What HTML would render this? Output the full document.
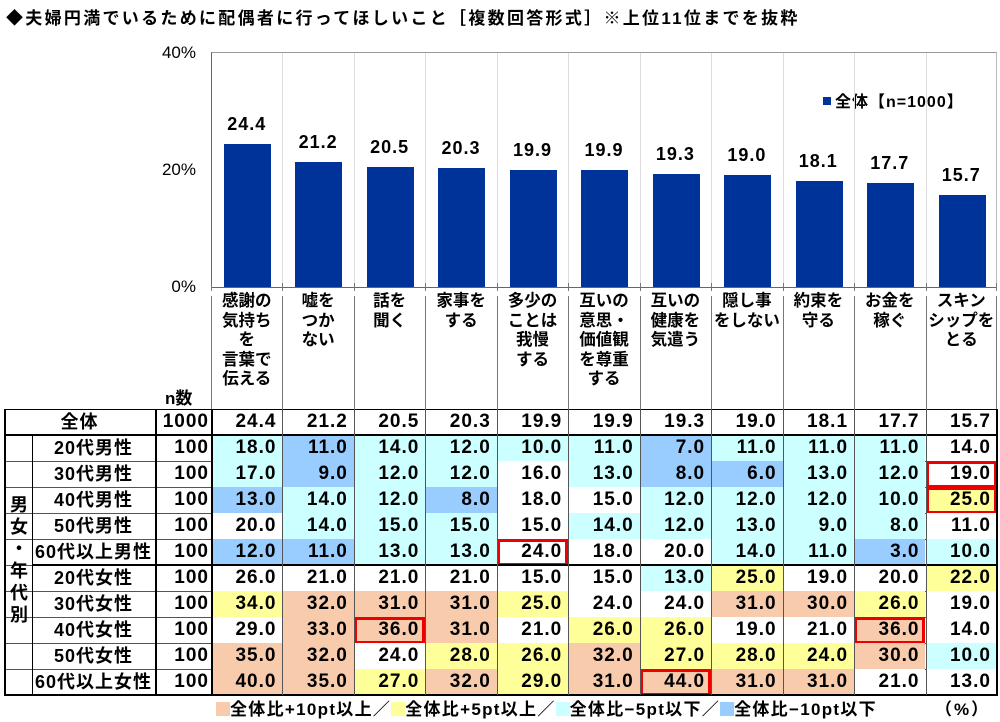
<!DOCTYPE html>
<html><head><meta charset="utf-8">
<style>
body{margin:0;width:1000px;height:722px;background:#fff;position:relative;overflow:hidden;font-family:"Liberation Sans","Noto Sans CJK JP",sans-serif;font-weight:bold;color:#000}
.a{position:absolute}
.cell{position:absolute;box-sizing:border-box;font-size:19px;text-align:right;padding-right:6px;line-height:26px;white-space:nowrap;letter-spacing:1px}
.lab{position:absolute;font-size:16.5px;text-align:center;line-height:19.5px}
</style></head><body>
<div class="a" style="left:6px;top:4px;font-size:17px;white-space:nowrap;letter-spacing:2.3px">◆夫婦円満でいるために配偶者に行ってほしいこと［複数回答形式］※上位11位までを抜粋</div>
<div class="a" style="left:140px;top:43px;width:56px;text-align:right;font-size:17px;font-weight:normal">40%</div>
<div class="a" style="left:140px;top:160px;width:56px;text-align:right;font-size:17px;font-weight:normal">20%</div>
<div class="a" style="left:140px;top:277px;width:56px;text-align:right;font-size:17px;font-weight:normal">0%</div>
<div class="a" style="left:211px;top:52px;width:784px;height:235px;border-top:1px solid #999;border-left:1px solid #666;border-right:1px solid #bbb"></div>
<div class="a" style="left:211px;top:287px;width:786px;height:1px;background:#666"></div>
<div class="a" style="left:823px;top:88px;font-size:16px;white-space:nowrap;letter-spacing:1px"><span style="display:inline-block;width:8px;height:8px;background:#003399;margin-right:4px;vertical-align:2px"></span>全体【n=1000】</div>
<div id="g"></div>
<script>
var W=71.45,X0=211;
var cats=["感謝の<br>気持ち<br>を<br>言葉で<br>伝える","嘘を<br>つか<br>ない","話を<br>聞く","家事を<br>する","多少の<br>ことは<br>我慢<br>する","互いの<br>意思・<br>価値観<br>を尊重<br>する","互いの<br>健康を<br>気遣う","隠し事<br>をしない","約束を<br>守る","お金を<br>稼ぐ","スキン<br>シップを<br>とる"];
var tot=[24.4,21.2,20.5,20.3,19.9,19.9,19.3,19.0,18.1,17.7,15.7];
var rows=[["20代男性",[18,11,14,12,10,11,7,11,11,11,14]],["30代男性",[17,9,12,12,16,13,8,6,13,12,19]],["40代男性",[13,14,12,8,18,15,12,12,12,10,25]],["50代男性",[20,14,15,15,15,14,12,13,9,8,11]],["60代以上男性",[12,11,13,13,24,18,20,14,11,3,10]],["20代女性",[26,21,21,21,15,15,13,25,19,20,22]],["30代女性",[34,32,31,31,25,24,24,31,30,26,19]],["40代女性",[29,33,36,31,21,26,26,19,21,36,14]],["50代女性",[35,32,24,28,26,32,27,28,24,30,10]],["60代以上女性",[40,35,27,32,29,31,44,31,31,21,13]]];
var red={"4_4":1,"7_2":1,"7_9":1,"9_6":1,"1_10":1,"2_10":1};
var h="";
for(var i=0;i<11;i++){var x=X0+i*W,v=tot[i],t=287-v*5.875;
 if(i>0)h+='<div class="a" style="left:'+x+'px;top:53px;width:1px;height:234px;background:#ddd"></div>';
 h+='<div class="a" style="left:'+x+'px;top:283px;width:1px;height:8px;background:#777"></div>';
 h+='<div class="a" style="left:'+x+'px;top:296px;width:1px;height:113px;background:#777"></div>';
 h+='<div class="a" style="left:'+(x+13)+'px;top:'+t+'px;width:47px;height:'+(287-t)+'px;background:#003399"></div>';
 h+='<div class="a" style="left:'+x+'px;top:'+(t-30)+'px;width:'+W+'px;text-align:center;font-size:18px;letter-spacing:1px">'+v.toFixed(1)+'</div>';
 h+='<div class="lab" style="left:'+x+'px;top:292px;width:'+W+'px">'+cats[i]+'</div>';
}
h+='<div class="a" style="left:996px;top:283px;width:1px;height:8px;background:#777"></div><div class="a" style="left:996px;top:296px;width:1px;height:113px;background:#777"></div>';
h+='<div class="a" style="left:165px;top:384px;font-size:17px">n数</div>';
function col(d){return d>=10?"#F8CBAD":d>=5?"#FFFF99":d<=-10?"#99CCFF":d<=-5?"#CCFFFF":"#fff";}
function row(y,hh,lab,n,vals,r,lx){
 h+='<div class="cell" style="left:'+lx+'px;top:'+y+'px;width:'+(155-lx)+'px;height:'+hh+'px;text-align:center;padding:0;line-height:'+hh+'px;font-size:18px">'+lab+'</div>';
 h+='<div class="cell" style="left:155px;top:'+y+'px;width:56px;height:'+hh+'px;line-height:'+hh+'px;padding-right:2px">'+n+'</div>';
 for(var i=0;i<11;i++){var v=vals[i],bg=r<0?"#fff":col(v-tot[i]);
  h+='<div class="cell" style="left:'+(X0+i*W)+'px;top:'+y+'px;width:'+W+'px;height:'+hh+'px;line-height:'+hh+'px;background:'+bg+'">'+v.toFixed(1)+'</div>';
  if(red[r+"_"+i])h+='<div class="a" style="box-sizing:border-box;left:'+(X0+i*W)+'px;top:'+y+'px;width:'+W+'px;height:'+(hh+1)+'px;border:3px solid #E00"></div>';
 }
 h+='<div class="a" style="left:4px;top:'+(y+hh)+'px;width:993px;height:1px;background:#555"></div>';
}
row(409,26,"全体",1000,tot,-1,4);
for(var r=0;r<10;r++)row(435+r*26,26,rows[r][0],100,rows[r][1],r,32);
h+='<div class="a" style="left:4px;top:409px;width:993px;height:1px;background:#000"></div>';
h+='<div class="a" style="left:4px;top:434px;width:993px;height:2px;background:#000"></div>';
h+='<div class="a" style="left:32px;top:564px;width:965px;height:2px;background:#000"></div>';
h+='<div class="a" style="left:4px;top:694px;width:993px;height:2px;background:#000"></div>';
[4,155,211,996].forEach(function(x){h+='<div class="a" style="left:'+x+'px;top:409px;width:2px;height:287px;background:#000"></div>';});
h+='<div class="a" style="left:32px;top:435px;width:1px;height:260px;background:#000"></div>';
for(var i=1;i<11;i++)h+='<div class="a" style="left:'+(X0+i*W)+'px;top:409px;width:1px;height:286px;background:#555"></div>';
h+='<div class="a" style="left:6px;top:494px;width:26px;text-align:center;font-size:18px;line-height:22px">男<br>女<br>・<br>年<br>代<br>別</div>';
document.getElementById("g").innerHTML=h;
</script>
<div class="a" style="left:216px;top:699px;font-size:17px;white-space:nowrap;line-height:22px;letter-spacing:1.3px">
<span style="display:inline-block;width:14px;height:14px;background:#F8CBAD;vertical-align:-1px"></span>全体比+10pt以上／<span style="display:inline-block;width:14px;height:14px;background:#FFFF99;vertical-align:-1px"></span>全体比+5pt以上／<span style="display:inline-block;width:14px;height:14px;background:#CCFFFF;vertical-align:-1px"></span>全体比−5pt以下／<span style="display:inline-block;width:14px;height:14px;background:#99CCFF;vertical-align:-1px"></span>全体比−10pt以下</div>
<div class="a" style="left:935px;top:699px;font-size:17px;line-height:22px;letter-spacing:2px">（%）</div>
</body></html>
